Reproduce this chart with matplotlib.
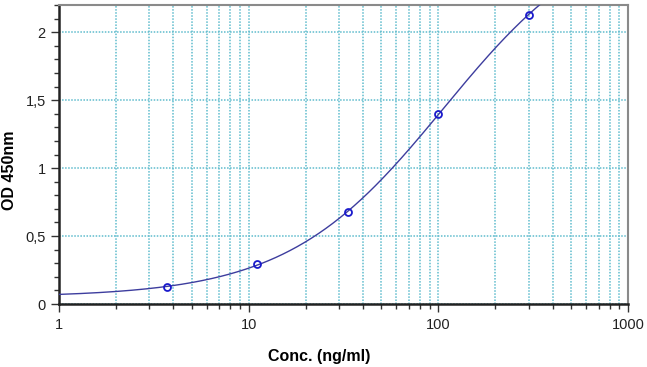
import numpy as np
import matplotlib.pyplot as plt
from matplotlib.ticker import FixedLocator, LogLocator, NullFormatter

plt.rcParams['font.family'] = ['Liberation Sans', 'DejaVu Sans']

# standards (ng/ml) and measured OD 450nm
conc = [3.7, 11.1, 33.3, 100, 300]
od = [0.125, 0.294, 0.676, 1.397, 2.13]
y_ticks = [0, 0.5, 1, 1.5, 2]
y_labels = ['0', '0,5', '1', '1,5', '2']
x_ticks = [1, 10, 100, 1000]
x_labels = ['1', '10', '100', '1000']

# 4PL fit: grid over slope / midpoint, linear least squares for bottom / top
x = np.array(conc)
y = np.array(od)
best = None
for b in np.linspace(0.5, 2.5, 201):
    for logc in np.linspace(1.5, 4, 251):
        w = 1 / (1 + (x / 10**logc) ** b)
        M = np.column_stack([w, 1 - w])
        coef, *_ = np.linalg.lstsq(M, y, rcond=None)
        err = np.sum((M @ coef - y) ** 2)
        if best is None or err < best[0]:
            best = (err, b, 10**logc, coef)
_, B, C, (A, D) = best

xs = np.logspace(0, 3, 400)
ys = D + (A - D) / (1 + (xs / C) ** B)

fig = plt.figure(figsize=(6.47, 3.67), dpi=100)
ax = fig.add_axes([59/647, 1 - 304/367, (628-59)/647, (304-5)/367])

ax.plot(xs, ys, color='#3d3d9e', lw=1.0, zorder=3)
ax.plot(conc, od, 'o', ms=5, mfc='none', mec='#1a1acc', mew=1.3, zorder=4)

ax.set_xscale('log')
ax.set_xlim(1, 1000)
ax.set_ylim(0, 2.2)

ax.xaxis.set_major_locator(FixedLocator(x_ticks))
ax.set_xticklabels(x_labels)
ax.xaxis.set_minor_locator(LogLocator(base=10, subs=np.arange(2, 10)))
ax.xaxis.set_minor_formatter(NullFormatter())
ax.set_yticks(y_ticks)
ax.set_yticklabels(y_labels)
ax.yaxis.set_minor_locator(FixedLocator(np.arange(0, 2.21, 0.1)))

grid_kw = dict(color='#5fbccd', lw=1.1, ls=(0, (1, 1)))
ax.grid(True, which='both', axis='x', **grid_kw)
ax.grid(True, which='major', axis='y', **grid_kw)
ax.set_axisbelow(True)

ax.tick_params(axis='both', which='major', length=6, width=1, labelsize=10.5,
               color='#333333', labelcolor='#222222')
ax.tick_params(axis='both', which='minor', length=3.5, width=1, color='#333333')
ax.tick_params(axis='x', which='major', pad=4)

for s in ['left', 'bottom']:
    ax.spines[s].set_color('#222222')
    ax.spines[s].set_linewidth(1.8)
for s in ['top', 'right']:
    ax.spines[s].set_color('#8a8a8a')
    ax.spines[s].set_linewidth(1.5)

fig.text(319/647, 1 - 357/367, 'Conc. (ng/ml)', ha='center', va='center',
         fontsize=11.5, fontweight='bold')
fig.text(10/647, 1 - 170/367, 'OD 450nm', ha='center', va='center',
         rotation=90, fontsize=11.5, fontweight='bold')

fig.savefig('out.png', dpi=100)
